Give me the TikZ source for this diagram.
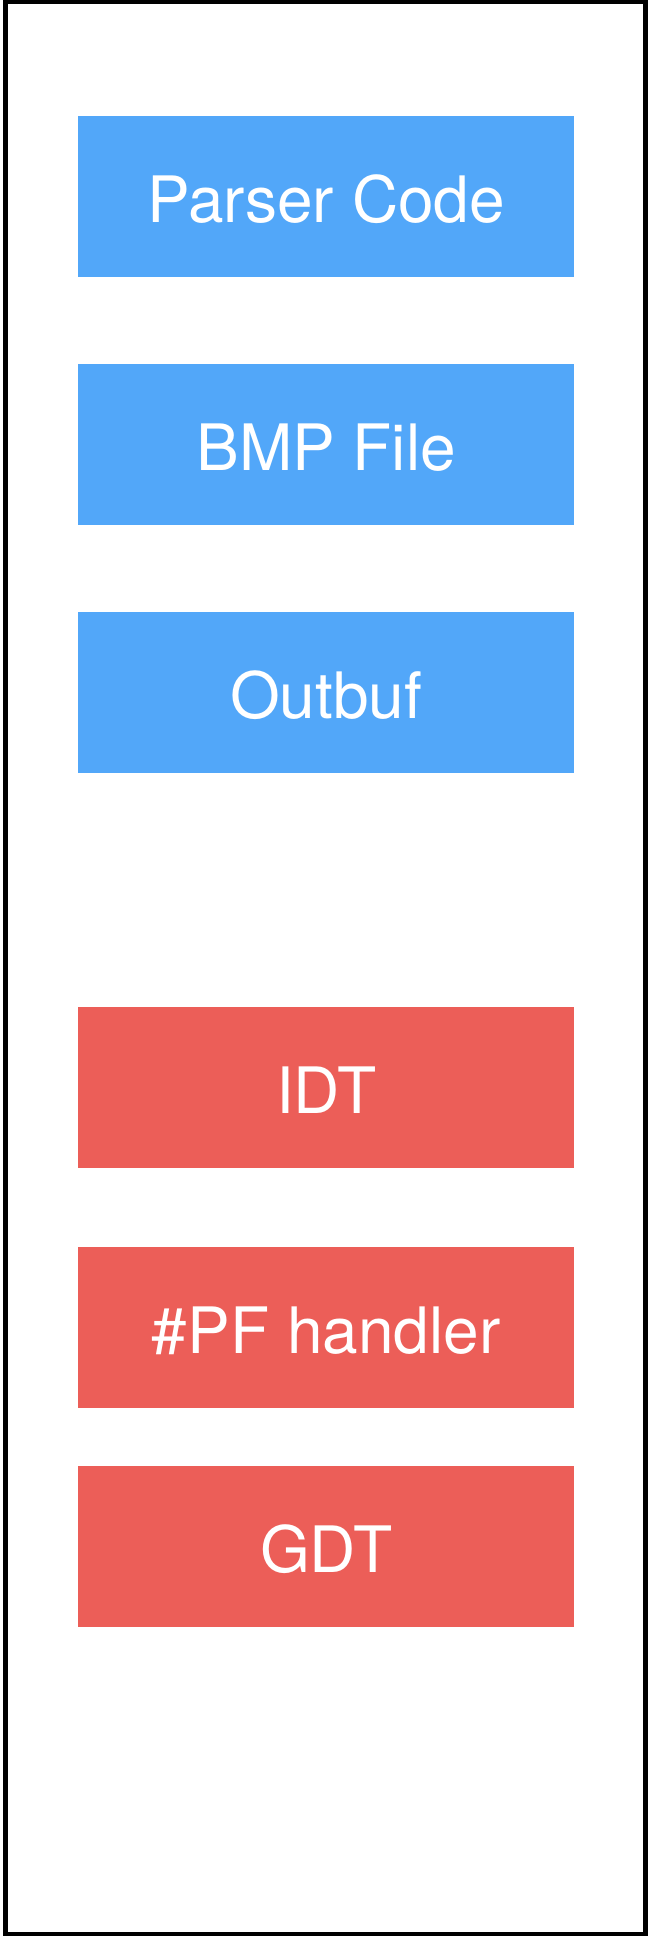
\documentclass[tikz,border=0pt]{standalone}
\usepackage{fontspec}
\setmainfont{TeX Gyre Heros}
\definecolor{userblue}{HTML}{52A7F9}
\definecolor{kernelred}{HTML}{EC5E58}
\begin{document}
\begin{tikzpicture}[x=1pt,y=-1pt,
  region/.style={draw=none, minimum width=496pt, minimum height=160.7pt,
    inner sep=0pt, anchor=north west},
  userregion/.style={region, fill=userblue},
  kernelregion/.style={region, fill=kernelred},
  label/.style={text=white, font=\fontsize{64}{64}\selectfont, anchor=base}]
  \useasboundingbox (0,0) rectangle (648,1936);
  % memory frame
  \draw[line width=4.5pt, fill=white] (5.5,2.2) rectangle (645.5,1934);
  % user-space regions
  \node[userregion] (parser) at (78,116) {};
  \node[userregion] (bmp) at (78,364) {};
  \node[userregion] (outbuf) at (78,612) {};
  % kernel regions
  \node[kernelregion] (idt) at (78,1007) {};
  \node[kernelregion] (pf) at (78,1247) {};
  \node[kernelregion] (gdt) at (78,1466) {};
  % labels
  \node[label] (tparser) at ([yshift=-106pt]parser.north) {Parser Code};
  \node[label] (tbmp) at ([yshift=-106pt]bmp.north) {BMP File};
  \node[label] (toutbuf) at ([yshift=-106pt]outbuf.north) {Outbuf};
  \node[label] (tidt) at ([yshift=-106pt]idt.north) {IDT};
  \node[label] (tpf) at ([yshift=-106pt]pf.north) {\#PF handler};
  \node[label] (tgdt) at ([yshift=-106pt]gdt.north) {GDT};
\end{tikzpicture}
\end{document}
